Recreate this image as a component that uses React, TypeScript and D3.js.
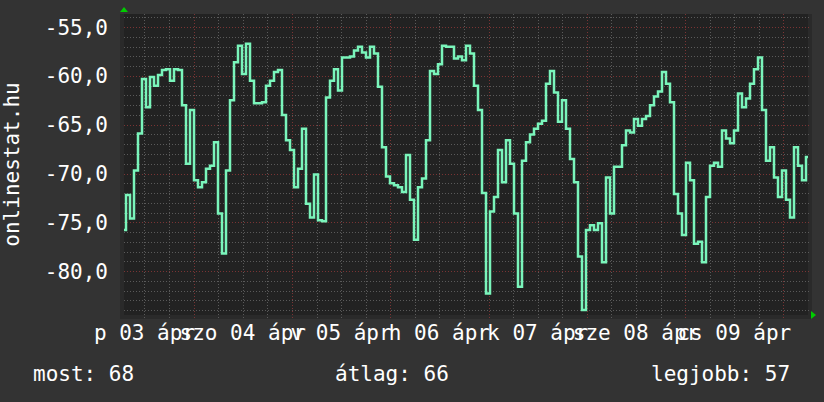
import React, { useMemo } from "react";
import * as d3 from "d3";

const WIDTH = 824;
const HEIGHT = 402;
const MARGIN = { top: 14, right: 16, bottom: 87, left: 124 };
const FONT = "'DejaVu Sans Mono', monospace";

// signal level (dB), roughly one sample per hour, 03 ápr 07:00 -> 10 ápr 06:00
const START = new Date(Date.UTC(2009, 3, 3, 7));
const END = new Date(Date.UTC(2009, 3, 10, 6));
const values = [
  -75.8, -72.2, -74.6, -69.7, -65.9, -60.3, -63.2, -60.1, -61.0, -59.9,
  -59.4, -59.3, -60.5, -59.3, -59.4, -63.0, -69.0, -63.5, -70.7, -71.4,
  -70.9, -69.5, -69.2, -66.8, -74.1, -78.2, -69.7, -62.5, -58.6, -56.9,
  -59.8, -56.7, -60.5, -62.8, -62.8, -62.7, -61.0, -60.5, -59.6, -59.4,
  -64.0, -66.6, -67.6, -71.4, -69.5, -65.4, -73.1, -74.5, -70.1, -74.8,
  -74.9, -62.2, -60.5, -59.3, -61.5, -58.1, -58.1, -58.0, -57.4, -57.0,
  -57.6, -58.1, -57.0, -57.7, -61.1, -67.3, -70.3, -71.0, -71.2, -71.4,
  -71.9, -68.1, -72.7, -76.8, -71.4, -70.5, -66.6, -59.5, -59.8, -58.8,
  -56.9, -57.0, -57.0, -58.2, -58.0, -58.4, -56.9, -57.7, -61.0, -63.5,
  -72.0, -82.3, -73.9, -72.4, -67.6, -70.9, -66.6, -69.0, -74.1, -81.6,
  -68.7, -66.8, -66.0, -65.4, -64.9, -64.6, -60.8, -59.5, -61.7, -64.7,
  -62.5, -65.4, -68.5, -70.9, -78.5, -84.0, -75.8, -75.3, -75.8, -75.1,
  -79.1, -70.4, -74.1, -69.3, -69.3, -67.1, -65.6, -65.8, -64.4, -65.1,
  -64.4, -64.1, -63.0, -62.1, -61.6, -59.6, -60.8, -62.7, -72.1, -74.1,
  -76.3, -68.9, -70.7, -77.2, -77.0, -79.1, -72.4, -69.2, -68.9, -69.3,
  -65.6, -66.4, -66.9, -65.6, -61.8, -63.2, -62.3, -60.8, -59.3, -58.1,
  -63.5, -68.7, -67.3, -70.4, -72.4, -69.7, -72.7, -74.5, -67.3, -69.2,
  -70.7, -68.3,
];

const Y_DOMAIN = [-84.5, -53.65];
const Y_TICKS = [-80, -75, -70, -65, -60, -55];
const AXIS_TITLE = "onlinestat.hu";
const LEGEND = [
  { label: "most", value: 68 },
  { label: "átlag", value: 66 },
  { label: "legjobb", value: 57 },
];

const huTime = d3.timeFormatLocale({
  dateTime: "%Y. %B %-e. %X",
  date: "%Y. %m. %d.",
  time: "%H:%M:%S",
  periods: ["de.", "du."],
  days: ["vasárnap", "hétfő", "kedd", "szerda", "csütörtök", "péntek", "szombat"],
  shortDays: ["v", "h", "k", "sze", "cs", "p", "szo"],
  months: ["január", "február", "március", "április", "május", "június", "július", "augusztus", "szeptember", "október", "november", "december"],
  shortMonths: ["jan", "feb", "már", "ápr", "máj", "jún", "júl", "aug", "szept", "okt", "nov", "dec"],
});
const huNum = d3.formatLocale({ decimal: ",", thousands: " ", grouping: [3], currency: ["", " Ft"], minus: "-" });
const fmtDay = huTime.utcFormat("%a %d %b");
const fmtY = huNum.format(".1f");

export default function App() {
  const x0 = MARGIN.left;
  const x1 = WIDTH - MARGIN.right;
  const y0 = MARGIN.top;
  const y1 = HEIGHT - MARGIN.bottom;

  const xScale = useMemo(() => d3.scaleUtc().domain([START, END]).range([x0, x1]), []);
  const yScale = useMemo(() => d3.scaleLinear().domain(Y_DOMAIN).range([y1, y0]), []);

  const step = (END.getTime() - START.getTime()) / (values.length - 1);
  const points: [Date, number][] = values.map((v, i) => [new Date(START.getTime() + i * step), v]);

  const linePath = d3
    .line<[Date, number]>()
    .curve(d3.curveStep)
    .x((d) => xScale(d[0]))
    .y((d) => yScale(d[1]))(points);

  const minorX = d3.utcHour.every(6)!.range(START, END);
  const majorX = d3.utcDay.range(START, END);
  const labelDays = d3.utcDay
    .range(d3.utcDay.floor(START), END)
    .map((d) => d3.utcHour.offset(d, 12))
    .filter((d) => d < END);
  const minorY = d3.range(Math.ceil(Y_DOMAIN[0]), Y_DOMAIN[1], 1);

  return (
    <svg width={WIDTH} height={HEIGHT} style={{ position: "fixed", left: 0, top: 0, display: "block" }}>
      <rect width={WIDTH} height={HEIGHT} fill="#333333" />
      <rect x={x0 - 4} y={y0} width={x1 - x0 + 8} height={y1 - y0 + 4} fill="#2a2a2a" />
      <rect x={x0} y={y0} width={x1 - x0} height={y1 - y0} fill="#222222" />

      {/* grid */}
      <g strokeWidth={1} strokeDasharray="1,2" shapeRendering="crispEdges">
        {minorY.map((v) => (
          <line key={"my" + v} x1={x0} x2={x1 + 2} y1={Math.round(yScale(v)) + 0.5} y2={Math.round(yScale(v)) + 0.5}
            stroke={v % 5 === 0 ? "#7a3434" : "#5a5a5a"} />
        ))}
        {minorX.map((d) => (
          <line key={"mx" + d.getTime()} y1={y0} y2={y1 + 3} x1={Math.round(xScale(d)) + 0.5} x2={Math.round(xScale(d)) + 0.5}
            stroke="#5a5a5a" />
        ))}
        {majorX.map((d) => (
          <line key={"Mx" + d.getTime()} y1={y0} y2={y1 + 3} x1={Math.round(xScale(d)) + 0.5} x2={Math.round(xScale(d)) + 0.5}
            stroke="#7a3434" />
        ))}
      </g>

      {/* axis arrows */}
      <path d={`M${x0 - 4},${y0 - 2}L${x0 + 4},${y0 - 2}L${x0},${y0 - 7}Z`} fill="#00cc00" />
      <path d={`M${x1 + 3},${y1 - 4}L${x1 + 3},${y1 + 4}L${x1 + 8},${y1}Z`} fill="#00cc00" />

      <path d={linePath ?? ""} fill="none" stroke="#7af5bb" strokeWidth={2.5} strokeLinejoin="miter" />

      <g fontFamily={FONT} fontSize={21} fill="#ffffff">
        {Y_TICKS.map((v) => (
          <text key={v} x={108} y={yScale(v) + 7.5} textAnchor="end">{fmtY(v)}</text>
        ))}
        {labelDays.map((d) => (
          <text key={d.getTime()} x={xScale(d)} y={340} textAnchor="middle">{fmtDay(d)}</text>
        ))}
        <text transform={`translate(19,${(y0 + y1) / 2}) rotate(-90)`} textAnchor="middle">{AXIS_TITLE}</text>
        <text x={33} y={381}>{`${LEGEND[0].label}: ${LEGEND[0].value}`}</text>
        <text x={335} y={381}>{`${LEGEND[1].label}: ${LEGEND[1].value}`}</text>
        <text x={651} y={381}>{`${LEGEND[2].label}: ${LEGEND[2].value}`}</text>
      </g>
    </svg>
  );
}
